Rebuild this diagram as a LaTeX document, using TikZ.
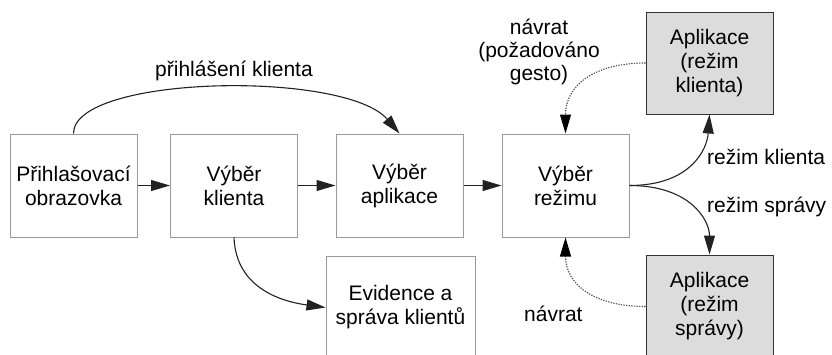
\documentclass[tikz,border=0pt]{standalone}
\usepackage{fontspec}
\setmainfont{Liberation Sans}
\usetikzlibrary{arrows.meta}
\definecolor{boxline}{HTML}{9A9A9A}
\definecolor{appline}{HTML}{333333}
\definecolor{appfill}{HTML}{DCDCDC}
\definecolor{wire}{HTML}{222222}
\tikzset{
  screen/.style={draw=boxline, line width=1pt, fill=white, minimum width=127pt,
    minimum height=103pt, inner sep=0pt, align=center, font=\fontsize{21}{24}\selectfont},
  appbox/.style={screen, draw=appline, fill=appfill},
  flow/.style={draw=wire, line width=1.1pt, -{Triangle[length=19pt,width=11pt]}},
  back/.style={draw=gray!60!black, line width=1.1pt, dash pattern=on 1.3pt off 1.3pt,
    -{Triangle[length=19pt,width=11pt,color=black]}},
  caption/.style={inner sep=0pt, align=center, font=\fontsize{21}{23}\selectfont}
}
\begin{document}
\begin{tikzpicture}[x=1pt,y=-1pt]
\useasboundingbox (0,0) rectangle (832,354);

% main row of screens
\node[screen] (login) at (73.5,185.5) {Přihlašovací\\obrazovka};
\node[screen] (klient) at (234,185.5) {Výběr\\klienta};
\node[screen] (aplik) at (399.5,185.5) {Výběr\\aplikace};
\node[screen] (rezim) at (565.5,185.5) {Výběr\\režimu};
\node[screen, minimum width=149pt] (evid) at (400.5,307.5) {Evidence a\\správa klientů};

% running applications
\node[appbox, minimum height=102pt] (appK) at (709.5,63) {Aplikace\\(režim\\klienta)};
\node[appbox] (appS) at (709.5,306.5) {Aplikace\\(režim\\správy)};

% straight transitions
\draw[flow] (login) -- (klient);
\draw[flow] (klient) -- (aplik);
\draw[flow] (aplik) -- (rezim);

% curved transitions
\draw[flow] (login.north) .. controls (73.5,75) and (345,70) .. (aplik.north);
\node[caption] (lblLogin) at (234,71) {přihlášení klienta};

\draw[flow] (klient.south) .. controls (236,290) and (285,302) .. (evid.west);

\draw[flow] (rezim.east) .. controls (690,185.5) and (707,150) .. (appK.south);
\draw[flow] (rezim.east) .. controls (690,185.5) and (709.5,220) .. (appS.north);
\node[caption, anchor=base west] (lblK) at (707,164) {režim klienta};
\node[caption, anchor=base west] (lblS) at (707,212) {režim správy};

% returns from the applications
\draw[back] (appK.west) .. controls (595,63) and (565.5,85) .. (rezim.north);
\draw[back] (appS.west) .. controls (595,306.5) and (565.5,285) .. (rezim.south);
\node[caption] (lblBack1) at (539,52) {návrat\\(požadováno\\gesto)};
\node[caption, anchor=base west] (lblBack2) at (524,321) {návrat};
\end{tikzpicture}
\end{document}
